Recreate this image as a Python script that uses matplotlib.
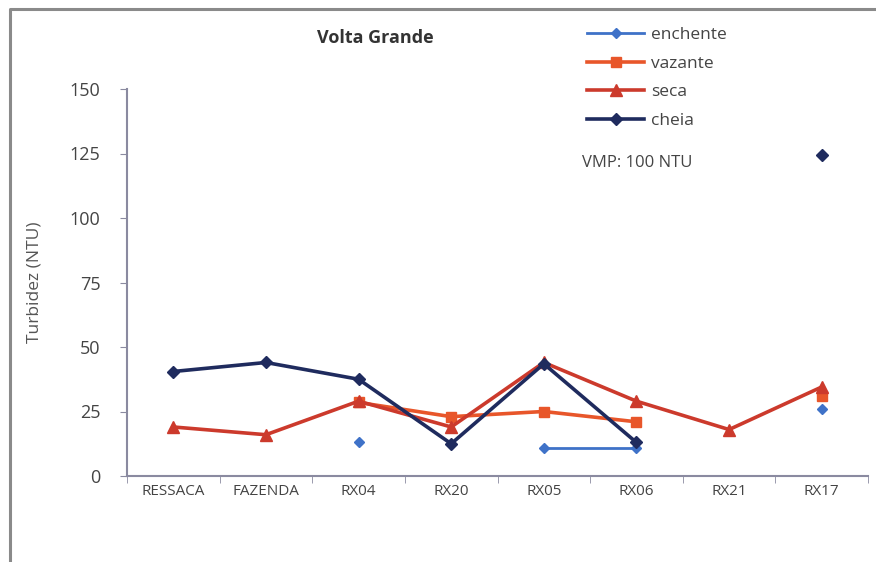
import numpy as np
import matplotlib
matplotlib.use("Agg")
import matplotlib.pyplot as plt
from matplotlib.lines import Line2D

plt.rcParams['font.family'] = ['Open Sans', 'DejaVu Sans']

sites = ["RESSACA", "FAZENDA", "RX04", "RX20", "RX05", "RX06", "RX21", "RX17"]
nan = np.nan
enchente = [nan, nan, 13, nan, 11, 11, nan, 26]
vazante = [nan, nan, 28.5, 23, 25, 21, nan, 31]
seca = [19, 16, 29, 19, 44, 29, 18, 34.5]
cheia = [40.5, 44, 37.5, 12.5, 43.5, 13, nan, 124.5]
yticks = [0, 25, 50, 75, 100, 125, 150]

fig = plt.figure(figsize=(8.76, 5.62), dpi=100)
fig.patch.set_facecolor("white")
# chart frame (left and top edges)
fx, fy = 10 / 876, 1 - 9 / 562
fig.lines.append(Line2D([fx, fx, 1.0], [0, fy, fy], transform=fig.transFigure,
                        color="#8a8a8a", linewidth=2.2))

ax = fig.add_axes([127 / 876, 1 - 476 / 562, (868 - 127) / 876, (476 - 89) / 562])
x = np.arange(len(sites))

series = [
    ("enchente", enchente, "#3f72c8", "D", 5.5, 2.0),
    ("vazante", vazante, "#e8562a", "s", 7.5, 2.6),
    ("seca", seca, "#cc3a2c", "^", 8, 2.6),
    ("cheia", cheia, "#1f2b5e", "D", 6, 2.6),
]
for name, vals, col, mk, ms, lw in series:
    ax.plot(x, vals, color=col, marker=mk, markersize=ms, linewidth=lw,
            label=name, zorder=3)

ax.set_xlim(-0.5, len(sites) - 0.5)
ax.set_ylim(0, 150)
ax.set_yticks(yticks)
ax.set_yticklabels([str(v) for v in yticks], fontsize=13, color="#444444")
ax.set_xticks(x)
ax.set_xticklabels(sites, fontsize=11, color="#444444")
ax.set_xticks(np.arange(-0.5, len(sites)), minor=True)
ax.tick_params(axis="x", which="major", length=0, pad=6)
ax.tick_params(axis="x", which="minor", length=5, color="#8a8aa0", direction="out")
ax.tick_params(axis="y", length=5, color="#8a8aa0", pad=14)
for s in ["top", "right"]:
    ax.spines[s].set_visible(False)
for s in ["left", "bottom"]:
    ax.spines[s].set_color("#8a8aa0")
    ax.spines[s].set_linewidth(1.5)

ax.set_ylabel("Turbidez (NTU)", fontsize=12.5, color="#555555", labelpad=20)

fig.text(375 / 876, 1 - 38 / 562, "Volta Grande", fontsize=13, fontweight="bold",
         color="#333333", ha="center", va="center")
fig.text(637 / 876, 1 - 163 / 562, "VMP: 100 NTU", fontsize=12,
         color="#444444", ha="center", va="center")

leg = fig.legend(loc="upper left", bbox_to_anchor=(580 / 876, 1 - 20 / 562),
                 frameon=False, fontsize=12.5, handlelength=3.3,
                 labelspacing=0.72, handletextpad=0.4, borderaxespad=0)
for t in leg.get_texts():
    t.set_color("#444444")

fig.savefig("out.png", dpi=100, facecolor="white")
